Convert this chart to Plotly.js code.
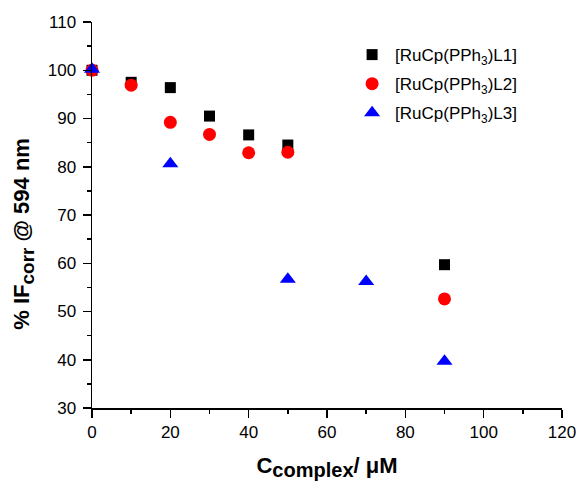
<!DOCTYPE html>
<html><head><meta charset="utf-8">
<script src="https://cdn.plot.ly/plotly-3.0.1.min.js"></script>
<style>html,body{margin:0;padding:0;background:#fff;}#chart{width:579px;height:484px;}</style>
</head><body><div id="chart"></div>
<script>
const seriesNames = ["[RuCp(PPh<sub>3</sub>)L1]", "[RuCp(PPh<sub>3</sub>)L2]", "[RuCp(PPh<sub>3</sub>)L3]"];
const xL1 = [0, 10, 20, 30, 40, 50, 90];
const yL1 = [100, 97.5, 96.4, 90.5, 86.6, 84.5, 59.7];
const xL2 = [0, 10, 20, 30, 40, 50, 90];
const yL2 = [100, 96.9, 89.2, 86.7, 82.9, 83.0, 52.6];
const xL3 = [0, 20, 50, 70, 90];
const yL3 = [100.2, 80.6, 56.7, 56.2, 39.7];
const xTickVals = [0, 20, 40, 60, 80, 100, 120];
const yTickVals = [30, 40, 50, 60, 70, 80, 90, 100, 110];
const xTitle = "<b>C<sub><span style=\"font-size:20px\">complex</span></sub>/ μM</b>";
const yTitle = "<b>% IF<sub><span style=\"font-size:19px\">corr</span></sub> @ 594 nm</b>";

const font = {family: "Liberation Sans, Arial, sans-serif", color: "#000"};
const traces = [
  {x: xL1, y: yL1, name: seriesNames[0], legendgroup: "a", mode: "markers", type: "scatter", cliponaxis: false,
   marker: {symbol: "square", size: 11, color: "#000000"}},
  {x: xL2, y: yL2, name: seriesNames[1], legendgroup: "b", mode: "markers", type: "scatter", cliponaxis: false,
   marker: {symbol: "circle", size: 13, color: "#ff0000"}},
  {x: xL3, y: yL3, name: seriesNames[2], legendgroup: "c", mode: "markers", type: "scatter", cliponaxis: false,
   marker: {symbol: "triangle-up", size: 14, color: "#0000ff"}}
];
const axisCommon = {
  showgrid: false, zeroline: false, showline: true, linecolor: "#000", linewidth: 1.5,
  ticks: "outside", ticklen: 8, tickwidth: 1.5, tickcolor: "#000",
  tickfont: Object.assign({size: 17}, font), mirror: false
};
const layout = {
  width: 579, height: 484,
  margin: {l: 92, r: 17, t: 22, b: 76},
  paper_bgcolor: "#fff", plot_bgcolor: "#fff",
  showlegend: true,
  legend: {x: 0.547, y: 0.961, xanchor: "left", yanchor: "top", bgcolor: "rgba(0,0,0,0)",
           font: Object.assign({size: 17}, font), itemwidth: 36, tracegroupgap: 4},
  xaxis: Object.assign({}, axisCommon, {
    range: [0, 120], tickvals: xTickVals, ticktext: xTickVals.map(String),
    minor: {tickvals: [10, 30, 50, 70, 90, 110], ticklen: 4, tickwidth: 1.5, tickcolor: "#000", ticks: "outside"},
    title: {text: xTitle, font: Object.assign({size: 22}, font), standoff: 16}
  }),
  yaxis: Object.assign({}, axisCommon, {
    range: [30, 110], tickvals: yTickVals, ticktext: yTickVals.map(String),
    ticklabelstandoff: 3,
    minor: {tickvals: [35, 45, 55, 65, 75, 85, 95, 105], ticklen: 4, tickwidth: 1.5, tickcolor: "#000", ticks: "outside"}
  }),
  annotations: [{
    text: yTitle, textangle: -90, xref: "paper", yref: "paper",
    x: -0.145, y: 0.451, xanchor: "center", yanchor: "middle", showarrow: false,
    font: Object.assign({size: 22}, font)
  }]
};
Plotly.newPlot("chart", traces, layout, {displayModeBar: false, staticPlot: true});
</script></body></html>
